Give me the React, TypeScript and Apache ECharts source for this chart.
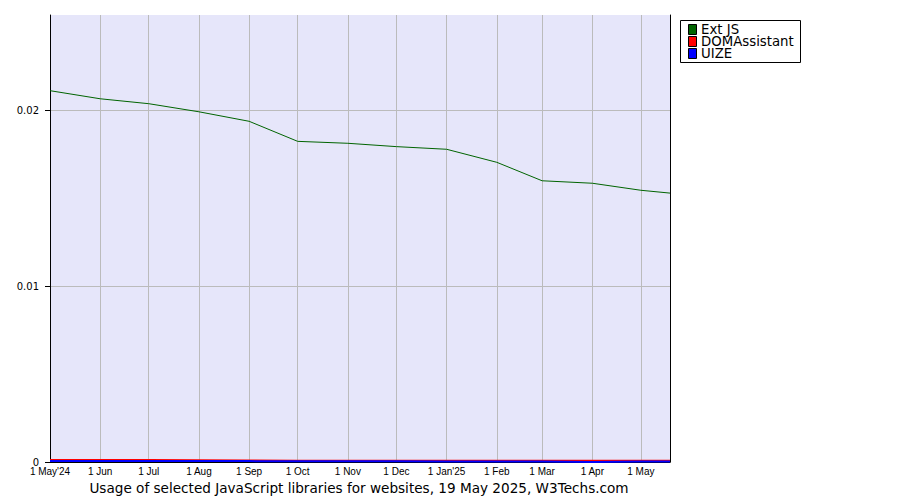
import React, { useEffect, useRef } from "react";
import * as echarts from "echarts";

const monthLabels = ["1 May'24", "1 Jun", "1 Jul", "1 Aug", "1 Sep", "1 Oct", "1 Nov", "1 Dec", "1 Jan'25", "1 Feb", "1 Mar", "1 Apr", "1 May"];
const monthDates = ["2024-05-01", "2024-06-01", "2024-07-01", "2024-08-01", "2024-09-01", "2024-10-01", "2024-11-01", "2024-12-01", "2025-01-01", "2025-02-01", "2025-03-01", "2025-04-01", "2025-05-01"];
const pointDates = [...monthDates, "2025-05-19"];
const extJs = [0.02110, 0.02064, 0.02036, 0.01990, 0.01936, 0.01822, 0.01811, 0.01792, 0.01777, 0.01703, 0.01598, 0.01584, 0.01544, 0.01528];
const domAssistant = [0.00011, 0.00011, 0.00011, 0.00010, 0.00008, 0.00007, 0.00007, 0.00007, 0.00007, 0.00007, 0.00007, 0.00007, 0.00007, 0.00007];
const uize = [0.00006, 0.00006, 0.00006, 0.00006, 0.00005, 0.00004, 0.00004, 0.00004, 0.00003, 0.00003, 0.00003, 0.0, 0.00003, 0.00003];
const seriesNames = ["Ext JS", "DOMAssistant", "UIZE"];
const seriesColors = ["#006400", "#ff0000", "#0000ff"];
const yTicks = [0, 0.01, 0.02];
const yLabels = ["0", "0.01", "0.02"];
const title = "Usage of selected JavaScript libraries for websites, 19 May 2025, W3Techs.com";

// days since 2024-05-01 (UTC)
function dayNum(d: string): number {
  const [y, m, day] = d.split("-").map(Number);
  return (Date.UTC(y, m - 1, day) - Date.UTC(2024, 4, 1)) / 86400000;
}

export default function App() {
  const ref = useRef<HTMLDivElement>(null);
  useEffect(() => {
    if (!ref.current) return;
    const chart = echarts.init(ref.current, null, { renderer: "svg" });
    const monthX = monthDates.map(dayNum);
    const pts = pointDates.map(dayNum);
    const mk = (vals: number[]) => vals.map((v, i) => [pts[i], v]);

    const legendEls: any[] = [
      {
        type: "rect",
        shape: { x: 680.5, y: 20.5, width: 120, height: 42 },
        style: { fill: "#fff", stroke: "#000", lineWidth: 1 },
        z: 10,
      },
    ];
    seriesNames.forEach((name, i) => {
      const cy = 29 + i * 12;
      legendEls.push({
        type: "rect",
        shape: { x: 688.5, y: cy - 4.5, width: 8, height: 10 },
        style: { fill: seriesColors[i], stroke: "#000", lineWidth: 1 },
        z: 11,
      });
      legendEls.push({
        type: "text",
        x: 701,
        y: cy,
        z: 11,
        style: {
          text: name,
          align: "left",
          verticalAlign: "middle",
          fontSize: 13.3,
          lineHeight: 12,
          fontFamily: "DejaVu Sans",
          fill: "#000",
        },
      });
    });

    chart.setOption({
      animation: false,
      backgroundColor: "#ffffff",
      textStyle: { fontFamily: "DejaVu Sans" },
      graphic: [
        {
          type: "text",
          x: 359,
          y: 488,
          style: {
            text: title,
            align: "center",
            verticalAlign: "middle",
            fontSize: 13.6,
            fontFamily: "DejaVu Sans",
            fill: "#000",
          },
        },
        ...legendEls,
      ],
      grid: {
        left: 50,
        top: 15,
        width: 620,
        height: 447,
        show: true,
        backgroundColor: "#e6e6fa",
        borderWidth: 0,
      },
      xAxis: {
        type: "value",
        min: pts[0],
        max: pts[pts.length - 1],
        axisLine: { show: true, lineStyle: { color: "#000", width: 1 } },
        axisTick: { show: true, length: 0, customValues: monthX },
        axisLabel: {
          customValues: monthX,
          fontFamily: "Liberation Sans",
          fontSize: 10,
          color: "#000",
          margin: 4,
          formatter: (v: number) => {
            const i = monthX.indexOf(v);
            return i >= 0 ? monthLabels[i] : "";
          },
        },
        splitLine: { show: true, lineStyle: { color: "#bbbbbb", width: 1 } },
      },
      yAxis: [
        {
          type: "value",
          min: 0,
          max: 0.0254,
          axisLine: { show: true, lineStyle: { color: "#000", width: 1 } },
          axisTick: { show: true, length: 5, inside: false, customValues: yTicks, lineStyle: { color: "#000" } },
          axisLabel: {
            customValues: yTicks,
            fontSize: 10,
            color: "#000",
            margin: 11,
            fontFamily: "DejaVu Sans",
            formatter: (v: number) => {
              const i = yTicks.findIndex((t) => Math.abs(t - v) < 1e-9);
              return i >= 0 ? yLabels[i] : "";
            },
          },
          splitLine: { show: true, lineStyle: { color: "#bbbbbb", width: 1 } },
        },
        {
          type: "value",
          min: 0,
          max: 0.0254,
          position: "right",
          axisLine: { show: true, lineStyle: { color: "#000", width: 1 } },
          axisTick: { show: false },
          axisLabel: { show: false },
          splitLine: { show: false },
        },
      ],
      series: [
        { name: seriesNames[0], type: "line", data: mk(extJs), symbol: "none", lineStyle: { color: seriesColors[0], width: 1 }, itemStyle: { color: seriesColors[0] } },
        { name: seriesNames[1], type: "line", data: mk(domAssistant), symbol: "none", lineStyle: { color: seriesColors[1], width: 2 }, itemStyle: { color: seriesColors[1] } },
        { name: seriesNames[2], type: "line", data: mk(uize), symbol: "none", lineStyle: { color: seriesColors[2], width: 2 }, itemStyle: { color: seriesColors[2] } },
      ],
    });
    return () => chart.dispose();
  }, []);
  return <div ref={ref} style={{ width: 900, height: 500, position: "absolute", left: 0, top: 0 }} />;
}
